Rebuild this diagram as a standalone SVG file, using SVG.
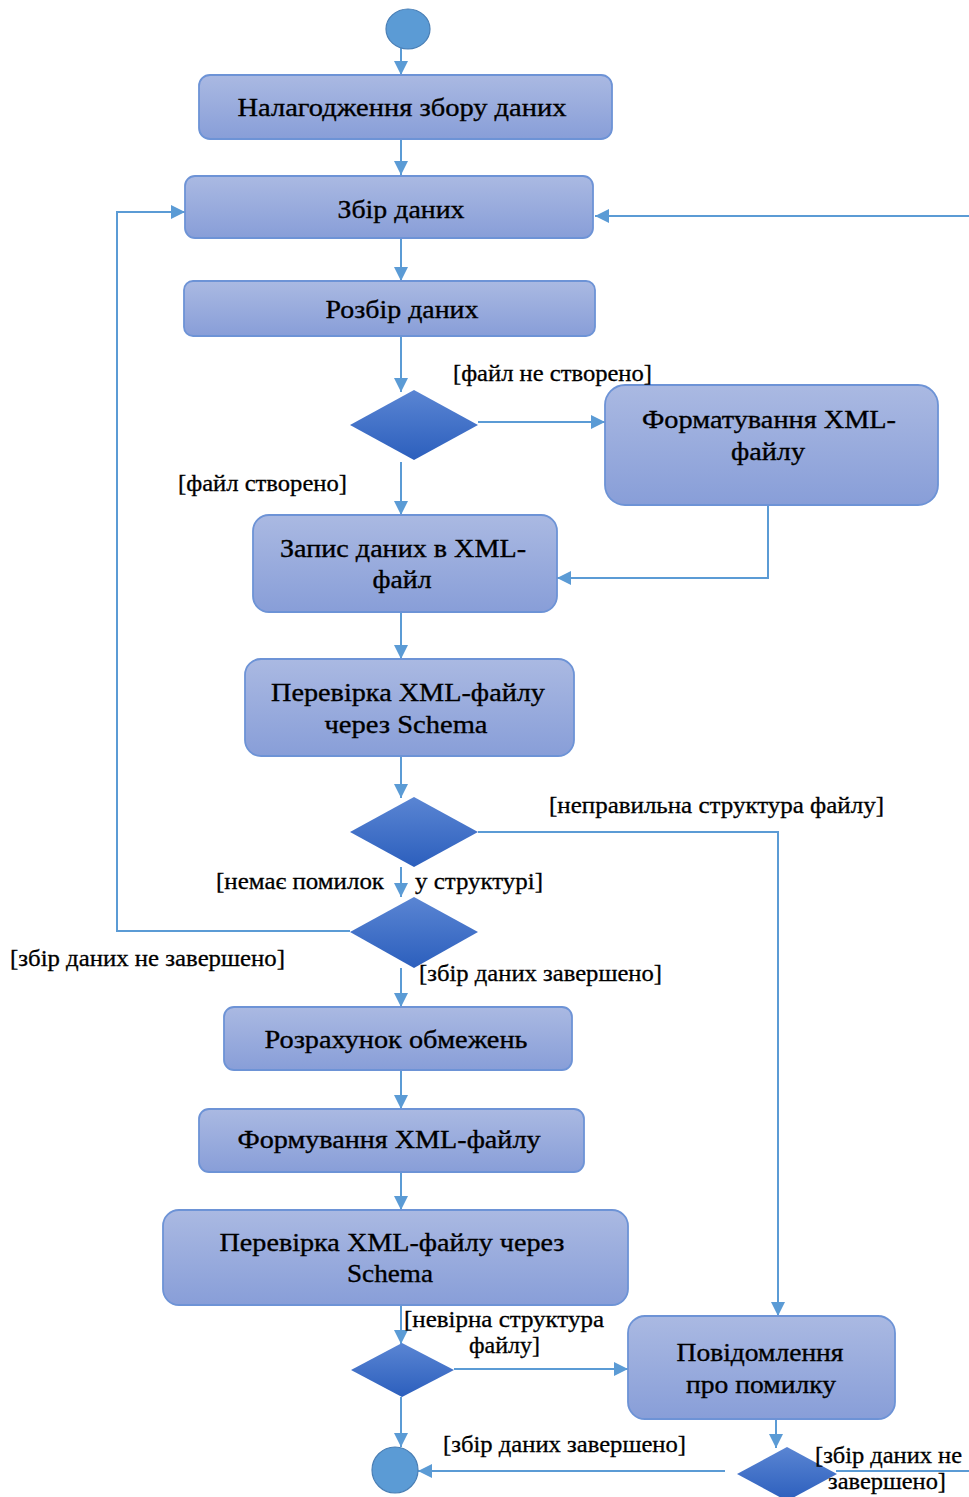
<svg xmlns="http://www.w3.org/2000/svg" width="969" height="1497" viewBox="0 0 969 1497">
<defs>
<linearGradient id="gBox" x1="0" y1="0" x2="0" y2="1">
<stop offset="0" stop-color="#aab9e2"/>
<stop offset="1" stop-color="#889ed8"/>
</linearGradient>
<linearGradient id="gDia" x1="0" y1="0" x2="0" y2="1">
<stop offset="0" stop-color="#5a85d3"/>
<stop offset="1" stop-color="#2c5fbd"/>
</linearGradient>
<marker id="arr" markerUnits="userSpaceOnUse" markerWidth="16" markerHeight="16" viewBox="0 0 16 16" refX="15" refY="8" orient="auto">
<path d="M1,1 L15,8 L1,15 Z" fill="#5b9bd5"/>
</marker>
</defs>
<style>
.box{fill:url(#gBox);stroke:#6d93d6;stroke-width:1.8}
.dia{fill:url(#gDia);stroke:none}
.term{fill:#5b9bd5;stroke:#4a7fb5;stroke-width:1.2}
.con{fill:none;stroke:#5b9bd5;stroke-width:2;marker-end:url(#arr)}
.t{font-family:"Liberation Serif","Times New Roman",serif;font-size:26px;fill:#000;stroke:#000;stroke-width:0.35;text-anchor:middle}
.l{font-family:"Liberation Serif","Times New Roman",serif;font-size:23px;fill:#000;stroke:#000;stroke-width:0.3}
</style>
<rect width="969" height="1497" fill="#ffffff"/>

<g id="connectors">
<path class="con" d="M401,48 L401,75"/>
<path class="con" d="M401,139 L401,175"/>
<path class="con" d="M401,238 L401,281"/>
<path class="con" d="M401,336 L401,392"/>
<path class="con" d="M478,422 L605,422"/>
<path class="con" d="M401,462 L401,515"/>
<path class="con" d="M768,505 L768,578 L557,578"/>
<path class="con" d="M401,612 L401,659"/>
<path class="con" d="M401,756 L401,798"/>
<path class="con" d="M478,832 L778,832 L778,1316"/>
<path class="con" d="M401,867 L401,897"/>
<path class="con" d="M350,931 L117,931 L117,212 L185,212"/>
<path class="con" d="M401,968 L401,1007"/>
<path class="con" d="M401,1070 L401,1109"/>
<path class="con" d="M401,1172 L401,1210"/>
<path class="con" d="M401,1305 L401,1344"/>
<path class="con" d="M454,1369 L628,1369"/>
<path class="con" d="M401,1397 L401,1447"/>
<path class="con" d="M776,1419 L776,1448"/>
<path class="con" d="M725,1471 L418,1471"/>
<path class="con" d="M836,1471 L990,1471 L990,216 L595,216"/>
</g>

<g id="start"><ellipse class="term" cx="408" cy="29" rx="22" ry="20"/></g>

<g id="n1"><rect class="box" x="199" y="75" width="413" height="64" rx="11"/>
<text class="t" x="402" y="116" textLength="329" lengthAdjust="spacingAndGlyphs">Налагодження збору даних</text></g>

<g id="n2"><rect class="box" x="185" y="176" width="408" height="62" rx="10"/>
<text class="t" x="401" y="218" textLength="127" lengthAdjust="spacingAndGlyphs">Збір даних</text></g>

<g id="n3"><rect class="box" x="184" y="281" width="411" height="55" rx="9"/>
<text class="t" x="402" y="318" textLength="153" lengthAdjust="spacingAndGlyphs">Розбір даних</text></g>

<g id="d1"><polygon class="dia" points="414,390 478,425 414,460 350,425"/></g>

<g id="n4"><rect class="box" x="605" y="385" width="333" height="120" rx="20"/>
<text class="t" x="769" y="428" textLength="254" lengthAdjust="spacingAndGlyphs">Форматування XML-</text>
<text class="t" x="768" y="460" textLength="74" lengthAdjust="spacingAndGlyphs">файлу</text></g>

<g id="n5"><rect class="box" x="253" y="515" width="304" height="97" rx="16"/>
<text class="t" x="403" y="557" textLength="246" lengthAdjust="spacingAndGlyphs">Запис даних в XML-</text>
<text class="t" x="402" y="588" textLength="59" lengthAdjust="spacingAndGlyphs">файл</text></g>

<g id="n6"><rect class="box" x="245" y="659" width="329" height="97" rx="16"/>
<text class="t" x="408" y="701" textLength="274" lengthAdjust="spacingAndGlyphs">Перевірка XML-файлу</text>
<text class="t" x="406" y="733" textLength="163" lengthAdjust="spacingAndGlyphs">через Schema</text></g>

<g id="d2"><polygon class="dia" points="414,797 478,832 414,867 350,832"/></g>
<g id="d3"><polygon class="dia" points="414,897 478,932 414,968 350,932"/></g>

<g id="n7"><rect class="box" x="224" y="1007" width="348" height="63" rx="10"/>
<text class="t" x="396" y="1048" textLength="263" lengthAdjust="spacingAndGlyphs">Розрахунок обмежень</text></g>

<g id="n8"><rect class="box" x="199" y="1109" width="385" height="63" rx="10"/>
<text class="t" x="389" y="1148" textLength="303" lengthAdjust="spacingAndGlyphs">Формування XML-файлу</text></g>

<g id="n9"><rect class="box" x="163" y="1210" width="465" height="95" rx="16"/>
<text class="t" x="392" y="1251" textLength="345" lengthAdjust="spacingAndGlyphs">Перевірка XML-файлу через</text>
<text class="t" x="390" y="1282" textLength="86" lengthAdjust="spacingAndGlyphs">Schema</text></g>

<g id="d4"><polygon class="dia" points="402,1343 454,1370 402,1397 351,1370"/></g>

<g id="n10"><rect class="box" x="628" y="1316" width="267" height="103" rx="17"/>
<text class="t" x="760" y="1361" textLength="167" lengthAdjust="spacingAndGlyphs">Повідомлення</text>
<text class="t" x="761" y="1393" textLength="150" lengthAdjust="spacingAndGlyphs">про помилку</text></g>

<g id="end"><circle class="term" cx="395" cy="1470" r="23"/></g>

<g id="d5"><polygon class="dia" points="787,1447 837,1474 787,1501 737,1474"/></g>

<g id="labels">
<text class="l" x="453" y="381" textLength="199" lengthAdjust="spacingAndGlyphs">[файл не створено]</text>
<text class="l" x="178" y="491" textLength="169" lengthAdjust="spacingAndGlyphs">[файл створено]</text>
<text class="l" x="549" y="813" textLength="335" lengthAdjust="spacingAndGlyphs">[неправильна структура файлу]</text>
<text class="l" x="216" y="889" textLength="168" lengthAdjust="spacingAndGlyphs">[немає помилок</text>
<text class="l" x="415" y="889" textLength="128" lengthAdjust="spacingAndGlyphs">у структурі]</text>
<text class="l" x="10" y="966" textLength="275" lengthAdjust="spacingAndGlyphs">[збір даних не завершено]</text>
<text class="l" x="419" y="981" textLength="243" lengthAdjust="spacingAndGlyphs">[збір даних завершено]</text>
<text class="l" x="404" y="1327" textLength="200" lengthAdjust="spacingAndGlyphs">[невірна структура</text>
<text class="l" x="469" y="1353" textLength="71" lengthAdjust="spacingAndGlyphs">файлу]</text>
<text class="l" x="443" y="1452" textLength="243" lengthAdjust="spacingAndGlyphs">[збір даних завершено]</text>
<text class="l" x="815" y="1463" textLength="147" lengthAdjust="spacingAndGlyphs">[збір даних не</text>
<text class="l" x="828" y="1489" textLength="118" lengthAdjust="spacingAndGlyphs">завершено]</text>
</g>
</svg>
